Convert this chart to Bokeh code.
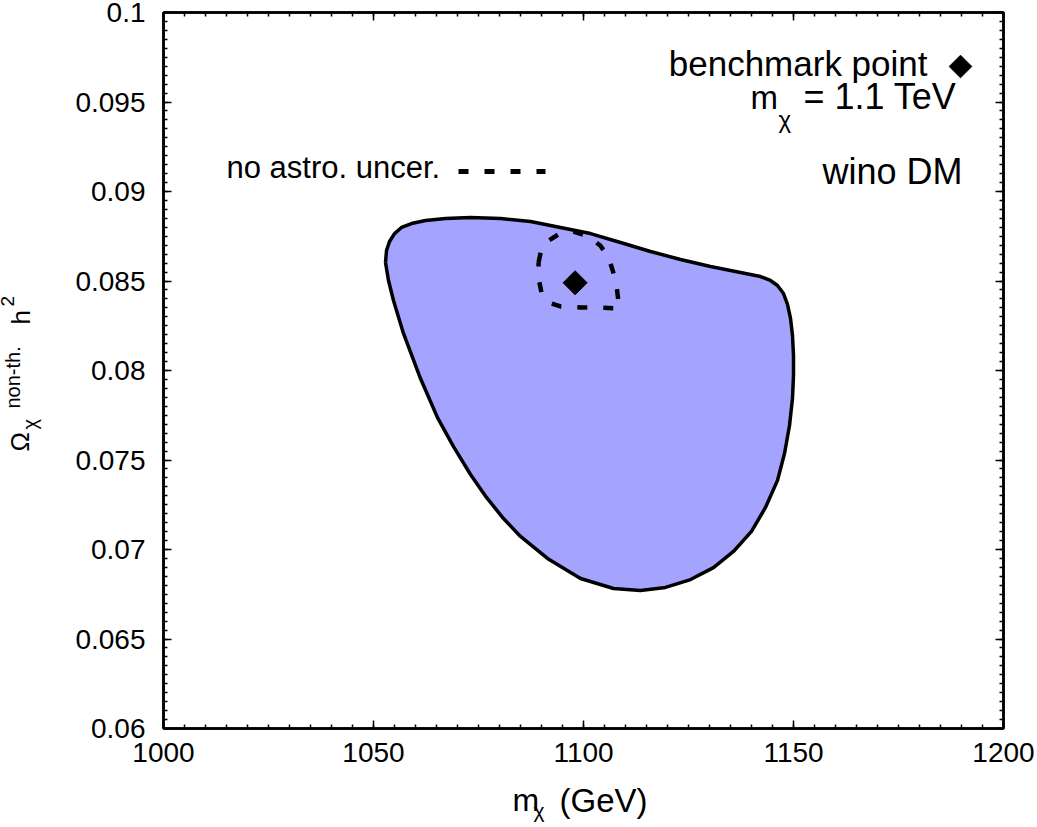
import numpy as np
from bokeh.plotting import figure
from bokeh.models import (LinearAxis, FixedTicker, CustomJSTickFormatter, Label, Range1d)
from bokeh.core.properties import value
from bokeh.embed import file_html
from bokeh.resources import INLINE

# ---------------- data ----------------
# allowed region (with astrophysical uncertainties), closed contour
region_mass = [1052.86, 1053.10, 1053.81, 1055.00, 1056.67, 1059.05, 1062.38, 1067.14, 1073.10,
               1080.24, 1087.38, 1094.52, 1101.67, 1108.81, 1115.95, 1123.10, 1130.24, 1137.38,
               1142.14, 1144.52, 1146.19, 1147.62, 1148.57, 1149.29, 1149.76, 1150.00, 1150.00,
               1149.76, 1149.05, 1147.86, 1146.19, 1143.33, 1140.00, 1135.71, 1130.95, 1125.48,
               1119.52, 1113.57, 1107.14, 1099.29, 1091.43, 1085.00, 1080.95, 1076.90, 1073.10,
               1069.05, 1065.24, 1061.19, 1057.14, 1054.76, 1053.57]
region_omega = [0.08603, 0.08670, 0.08721, 0.08765, 0.08799, 0.08821, 0.08838, 0.08849, 0.08855,
                0.08849, 0.08832, 0.08799, 0.08765, 0.08715, 0.08665, 0.08620, 0.08581, 0.08548,
                0.08525, 0.08503, 0.08475, 0.08430, 0.08369, 0.08291, 0.08196, 0.08084, 0.07972,
                0.07844, 0.07693, 0.07536, 0.07386, 0.07235, 0.07101, 0.06989, 0.06899, 0.06832,
                0.06788, 0.06771, 0.06782, 0.06838, 0.06950, 0.07073, 0.07173, 0.07291, 0.07419,
                0.07575, 0.07737, 0.07955, 0.08207, 0.08391, 0.08503]

# region without astrophysical uncertainties, closed contour
noastro_mass = [1089.3, 1090.0, 1091.7, 1094.0, 1097.4, 1101.2, 1104.0, 1106.0, 1107.1,
                1107.9, 1108.3, 1108.6, 1104.0, 1099.3, 1094.5, 1091.7, 1090.0, 1089.3]
noastro_omega = [0.08603, 0.08682, 0.08726, 0.08760, 0.08777, 0.08749, 0.08698, 0.08631, 0.08547,
                 0.08464, 0.08391, 0.08346, 0.08352, 0.08352, 0.08358, 0.08380, 0.08436, 0.08514]

bench_mass = [1098.0]
bench_omega = [0.0849]

x_ticks = [1000, 1050, 1100, 1150, 1200]
x_tick_labels = ["1000", "1050", "1100", "1150", "1200"]
y_ticks = [0.06, 0.065, 0.07, 0.075, 0.08, 0.085, 0.09, 0.095, 0.1]
y_tick_labels = ["0.06", "0.065", "0.07", "0.075", "0.08", "0.085", "0.09", "0.095", "0.1"]
x_minor = [1000 + 5 * i for i in range(41)]
y_minor = [round(0.06 + 0.0005 * i, 5) for i in range(81)]

# ---------------- layout ----------------
W, H = 1037, 827
FL, FR, FT, FB = 163, 1003, 12, 728
X0, X1, Y0, Y1 = 1000.0, 1200.0, 0.06, 0.1
FONT = "Liberation Sans"
BASE = 0.3465  # baseline offset of centred text boxes, in font sizes


def X(px):
    return X0 + (px - FL) * (X1 - X0) / (FR - FL)


def Y(py):
    return Y1 - (py - FT) * (Y1 - Y0) / (FB - FT)


p = figure(width=W, height=H, x_range=Range1d(X0, X1), y_range=Range1d(Y0, Y1),
           output_backend="svg", toolbar_location=None,
           x_axis_type=None, y_axis_type=None,
           min_border_left=FL, min_border_right=W - FR,
           min_border_top=FT, min_border_bottom=H - FB)
p.background_fill_color = "white"
p.border_fill_color = "white"
p.outline_line_color = "black"
p.outline_line_width = 2.5


def make_fmt(tvals, tlabs, tol):
    return CustomJSTickFormatter(code="""
const lbs = %s; const tks = %s;
for (let i = 0; i < tks.length; i++) { if (Math.abs(tick - tks[i]) < %g) return lbs[i]; }
return '';""" % (str(tlabs), str(tvals), tol))


def style_axis(ax, show_labels):
    ax.axis_line_color = "black"
    ax.axis_line_width = 2.5
    ax.major_tick_in = 8
    ax.major_tick_out = 0
    ax.minor_tick_in = 4
    ax.minor_tick_out = 0
    ax.major_tick_line_width = 1.5
    ax.minor_tick_line_width = 1.5
    ax.major_tick_line_color = "black"
    ax.minor_tick_line_color = "black"
    if show_labels:
        ax.major_label_text_font = FONT
        ax.major_label_text_font_size = "28px"
        ax.major_label_text_color = "black"
    else:
        ax.major_label_text_font_size = "0px"
        ax.major_label_standoff = 0


xb = LinearAxis(ticker=FixedTicker(ticks=x_ticks, minor_ticks=x_minor),
                formatter=make_fmt(x_ticks, x_tick_labels, 1e-6))
style_axis(xb, True)
xb.major_label_standoff = 14
p.add_layout(xb, "below")

xt = LinearAxis(ticker=FixedTicker(ticks=x_ticks, minor_ticks=x_minor),
                formatter=make_fmt(x_ticks, x_tick_labels, 1e-6))
style_axis(xt, False)
p.add_layout(xt, "above")

yl = LinearAxis(ticker=FixedTicker(ticks=y_ticks, minor_ticks=y_minor),
                formatter=make_fmt(y_ticks, y_tick_labels, 1e-9))
style_axis(yl, True)
yl.major_label_standoff = 18
p.add_layout(yl, "left")

yr = LinearAxis(ticker=FixedTicker(ticks=y_ticks, minor_ticks=y_minor),
                formatter=make_fmt(y_ticks, y_tick_labels, 1e-9))
style_axis(yr, False)
p.add_layout(yr, "right")

# ---------------- glyphs ----------------
p.patch(region_mass, region_omega, fill_color="#a4a4ff", line_color=None)
p.line(region_mass + region_mass[:1], region_omega + region_omega[:1],
       line_color="black", line_width=3.5, line_join="round")
p.line(noastro_mass + noastro_mass[:1], noastro_omega + noastro_omega[:1],
       line_color="black", line_width=4.5, line_dash="10 16")
p.scatter(bench_mass, bench_omega, marker="square", angle=np.pi / 4, size=17,
          fill_color="black", line_color="black")


# ---------------- key / annotations ----------------
def lab(px, py, text, size, align="left"):
    # (px, py): start of the text baseline in canvas pixels
    py = py - BASE * size
    p.add_layout(Label(x=X(px), y=Y(py), text=text, text_font=FONT,
                       text_font_size="%dpx" % size, text_align=align,
                       text_baseline="alphabetic", text_color="black"))


def outer_text(px, py, text, size, angle=0.0):
    # text outside the frame: glyph on the overlay level (not clipped)
    if angle == 0.0:
        py = py - BASE * size
    else:
        px = px - BASE * size
    r = p.text(x=[X(px)], y=[Y(py)], text=[text], text_font=value(FONT),
               text_font_size=value("%dpx" % size), text_align="left",
               text_baseline="alphabetic", angle=angle, text_color="black")
    r.level = "overlay"


lab(927, 75, "benchmark point", 35, "right")
p.scatter([X(960)], [Y(66)], marker="square", angle=np.pi / 4, size=16,
          fill_color="black", line_color="black")
lab(750, 108, "m", 33)
lab(778, 127, "χ", 24)
lab(956, 108, "= 1.1 TeV", 36, "right")
lab(962, 183, "wino DM", 36, "right")
lab(226, 178, "no astro. uncer.", 31)
p.line([X(458), X(545)], [Y(171), Y(171)], line_color="black", line_width=5,
       line_dash="10 16")

# x axis label
outer_text(512, 811, "m", 32)
outer_text(533, 817, "χ", 21)
outer_text(559, 811, "(GeV)", 33)

# y axis label (rotated)
rot = np.pi / 2
outer_text(29, 451, "Ω", 26, rot)
outer_text(36, 429, "χ", 20, rot)
outer_text(19, 408, "non-th.", 20, rot)
outer_text(30, 324, "h", 26, rot)
outer_text(14, 306, "2", 19, rot)

open("out.html", "w").write(file_html(p, INLINE))
